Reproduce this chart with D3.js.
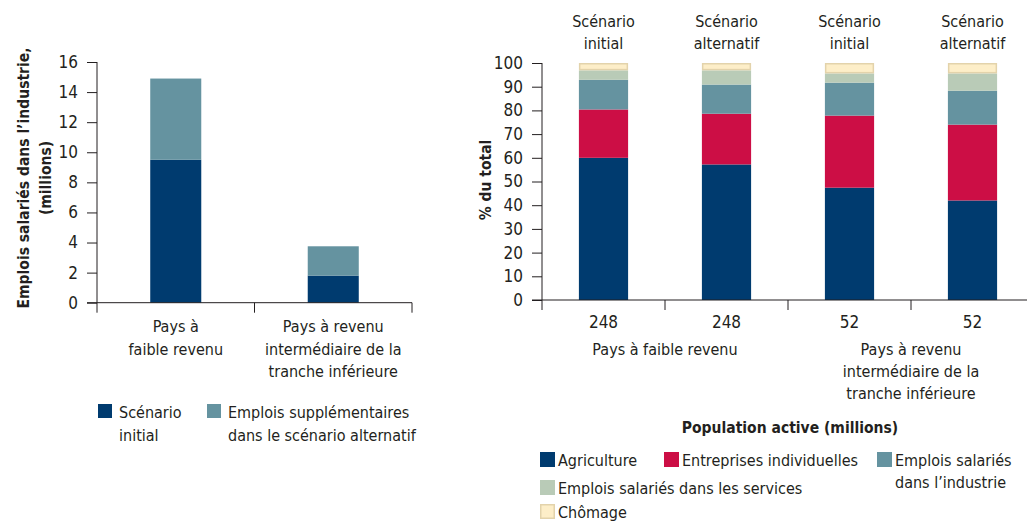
<!DOCTYPE html>
<html><head><meta charset="utf-8">
<script src="https://cdn.jsdelivr.net/npm/d3@7"></script>
<style>
body{margin:0;background:#fff;}
text{font-family:"Liberation Sans Narrow","DejaVu Sans Condensed","Arial Narrow",sans-serif;fill:#231f20;}
</style></head><body>
<svg id="c" width="1027" height="521"></svg>
<script>
// ---- Left chart data
const leftCategories = [["Pays à","faible revenu"],["Pays à revenu","intermédiaire de la","tranche inférieure"]];
const leftInitial = [9.5, 1.8];
const leftExtra = [5.4, 1.95];
const leftTicks = [0,2,4,6,8,10,12,14,16];
const leftSeriesNames = [["Scénario","initial"],["Emplois supplémentaires","dans le scénario alternatif"]];

// ---- Right chart data
const rightBars = ["b1","b2","b3","b4"];
const rightScenario = [["Scénario","initial"],["Scénario","alternatif"],["Scénario","initial"],["Scénario","alternatif"]];
const rightPop = ["248","248","52","52"];
const rightGroups = [["Pays à faible revenu"],["Pays à revenu","intermédiaire de la","tranche inférieure"]];
const agriculture = [60.0, 57.2, 47.4, 42.0];
const entreprises = [20.4, 21.4, 30.4, 32.0];
const industrie = [12.5, 12.3, 13.9, 14.3];
const services = [4.0, 6.0, 3.9, 7.3];
const chomage = [3.1, 3.1, 4.4, 4.4];
const rightTicks = [0,10,20,30,40,50,60,70,80,90,100];
const rightSeriesNames = ["Agriculture","Entreprises individuelles","Emplois salariés dans l’industrie","Emplois salariés dans les services","Chômage"];

const colors = {agri:"#003b6f", entr:"#cc0e45", ind:"#6593a0", serv:"#b9cbb7", chom:"#fdeec8"};
const axisColor = "#231f20";
const FS = 16;     // regular text
const FT = 17;     // tick numbers
const FB = 15.5;   // bold titles

const svg = d3.select("#c");

// ================= LEFT CHART =================
const L = svg.append("g");
const ly = d3.scaleLinear().domain([0,16]).range([302.7,62]);
const lx = d3.scaleBand().domain(d3.range(leftInitial.length)).range([97,412]).paddingInner(0.676).paddingOuter(0.338);

L.selectAll(".li").data(leftInitial).join("rect")
  .attr("x",(d,i)=>lx(i)).attr("width",lx.bandwidth())
  .attr("y",d=>ly(d)).attr("height",d=>ly(0)-ly(d)).attr("fill",colors.agri);
L.selectAll(".le").data(leftExtra).join("rect")
  .attr("x",(d,i)=>lx(i)).attr("width",lx.bandwidth())
  .attr("y",(d,i)=>ly(leftInitial[i]+d)).attr("height",(d,i)=>ly(leftInitial[i])-ly(leftInitial[i]+d)).attr("fill",colors.ind);

const lyAxis = L.append("g").attr("transform","translate(97,0)")
  .call(d3.axisLeft(ly).tickValues(leftTicks).tickSize(10).tickPadding(9).tickFormat(d3.format("d")));
lyAxis.select(".domain").attr("d","M0,"+ly(16)+"V"+(ly(0)+10));
lyAxis.selectAll("line,path").attr("stroke",axisColor);
lyAxis.selectAll("text").attr("font-size",FT).attr("font-family",null);
L.append("line").attr("x1",87).attr("x2",412).attr("y1",ly(0)).attr("y2",ly(0)).attr("stroke",axisColor);
const lBounds = d3.range(leftInitial.length+1).map(i=>97+i*lx.step());
L.selectAll(".lt").data(lBounds.slice(1)).join("line")
  .attr("x1",d=>d).attr("x2",d=>d).attr("y1",ly(0)).attr("y2",ly(0)+10).attr("stroke",axisColor);
leftCategories.forEach((lines,i)=>{
  const cx = lx(i)+lx.bandwidth()/2;
  lines.forEach((t,j)=>{
    L.append("text").attr("x",cx).attr("y",332+j*22.5).attr("text-anchor","middle").attr("font-size",FS).text(t);
  });
});
[["Emplois salariés dans l’industrie,",29],["(millions)",51]].forEach(([t,x])=>{
  L.append("text").attr("transform",`translate(${x},178) rotate(-90)`).attr("text-anchor","middle")
    .attr("font-size",FB).attr("font-weight","bold").text(t);
});
const lLegX = [98,207];
[colors.agri,colors.ind].forEach((c,i)=>{
  L.append("rect").attr("x",lLegX[i]).attr("y",404).attr("width",14).attr("height",14).attr("fill",c);
  leftSeriesNames[i].forEach((t,j)=>{
    L.append("text").attr("x",lLegX[i]+21).attr("y",418+j*23).attr("font-size",FS).text(t);
  });
});

// ================= RIGHT CHART =================
const R = svg.append("g");
const ry = d3.scaleLinear().domain([0,100]).range([300,63]);
const rx = d3.scaleBand().domain(rightBars).range([542,1034]).paddingInner(0.6).paddingOuter(0.3);

const rows = rightBars.map((b,i)=>({key:b, agri:agriculture[i], entr:entreprises[i], ind:industrie[i], serv:services[i], chom:chomage[i]}));
const keys = ["agri","entr","ind","serv","chom"];
const stack = d3.stack().keys(keys)(rows);
R.selectAll(".ser").data(stack).join("g")
  .attr("fill",d=>colors[d.key])
  .selectAll("rect").data(d=>d.map(p=>Object.assign(p,{k:d.key}))).join("rect")
  .attr("x",d=>rx(d.data.key)+(d.k==="chom"?0.75:0))
  .attr("width",d=>rx.bandwidth()-(d.k==="chom"?1.5:0))
  .attr("y",d=>ry(d[1])+(d.k==="chom"?0.75:0))
  .attr("height",d=>ry(d[0])-ry(d[1])-(d.k==="chom"?1.5:0))
  .attr("stroke",d=>d.k==="chom"?"#e3d3ab":"none").attr("stroke-width",1.5);

const ryAxis = R.append("g").attr("transform","translate(542,0)")
  .call(d3.axisLeft(ry).tickValues(rightTicks).tickSize(10).tickPadding(9).tickFormat(d3.format("d")));
ryAxis.select(".domain").attr("d","M0,"+ry(100)+"V"+(ry(0)+10));
ryAxis.selectAll("line,path").attr("stroke",axisColor);
ryAxis.selectAll("text").attr("font-size",FT).attr("font-family",null);
R.append("line").attr("x1",532).attr("x2",1027).attr("y1",ry(0)).attr("y2",ry(0)).attr("stroke",axisColor);
const rBounds = d3.range(1,rightBars.length).map(i=>542+i*rx.step());
R.selectAll(".rt").data(rBounds).join("line")
  .attr("x1",d=>d).attr("x2",d=>d).attr("y1",ry(0)).attr("y2",ry(0)+10).attr("stroke",axisColor);

rightBars.forEach((b,i)=>{
  const cx = rx(b)+rx.bandwidth()/2;
  rightScenario[i].forEach((t,j)=>{
    R.append("text").attr("x",cx).attr("y",27+j*21.5).attr("text-anchor","middle").attr("font-size",FS).text(t);
  });
  R.append("text").attr("x",cx).attr("y",328).attr("text-anchor","middle").attr("font-size",FT).text(rightPop[i]);
});
rightGroups.forEach((lines,g)=>{
  const cx = (rx(rightBars[g*2])+rx(rightBars[g*2+1])+rx.bandwidth())/2;
  lines.forEach((t,j)=>{
    R.append("text").attr("x",cx).attr("y",355+j*22).attr("text-anchor","middle").attr("font-size",FS).text(t);
  });
});
R.append("text").attr("transform","translate(491,180) rotate(-90)").attr("text-anchor","middle")
  .attr("font-size",FB).attr("font-weight","bold").text("% du total");
R.append("text").attr("x",790).attr("y",433).attr("text-anchor","middle").attr("font-size",FB).attr("font-weight","bold").text("Population active (millions)");

const legItems = [
  {k:"agri", x:540, y:452, lines:[rightSeriesNames[0]]},
  {k:"entr", x:664, y:452, lines:[rightSeriesNames[1]]},
  {k:"ind", x:877, y:452, lines:["Emplois salariés","dans l’industrie"]},
  {k:"serv", x:540, y:480, lines:[rightSeriesNames[3]]},
  {k:"chom", x:540, y:504, lines:[rightSeriesNames[4]]}
];
legItems.forEach(it=>{
  R.append("rect").attr("x",it.x+(it.k==="chom"?0.75:0)).attr("y",it.y+(it.k==="chom"?0.75:0))
    .attr("width",it.k==="chom"?13.5:15).attr("height",it.k==="chom"?13.5:15)
    .attr("fill",colors[it.k]).attr("stroke",it.k==="chom"?"#e3d3ab":"none").attr("stroke-width",1.5);
  it.lines.forEach((t,j)=>{
    R.append("text").attr("x",it.x+18).attr("y",it.y+13.5+j*22).attr("font-size",FS).text(t);
  });
});
</script>
</body></html>
